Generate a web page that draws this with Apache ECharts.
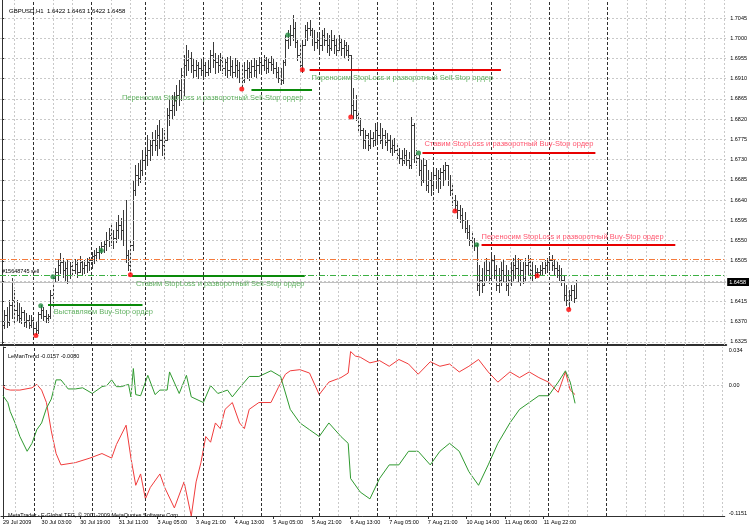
<!DOCTYPE html>
<html><head><meta charset="utf-8">
<script src="https://cdn.jsdelivr.net/npm/echarts@6/dist/echarts.min.js"></script>
<style>html,body{margin:0;padding:0;background:#fff}#c{width:750px;height:527px}</style>
</head><body><div id="c"></div>
<script>
// ---------- DATA ----------
const firstOpen = 1.6372;
const highs = [
1.6392,1.6396,1.6403,1.6419,1.6467,1.6441,1.6419,1.6412,1.6403,1.6396,
1.6390,1.6385,1.6385,1.6379,1.6370,1.6392,1.6407,1.6403,1.6396,1.6387,
1.6441,1.6474,1.6490,1.6507,1.6523,1.6512,1.6503,1.6507,1.6503,1.6507,
1.6510,1.6507,1.6516,1.6505,1.6507,1.6512,1.6514,1.6525,1.6530,1.6534,
1.6538,1.6547,1.6552,1.6570,1.6578,1.6585,1.6574,1.6592,1.6607,1.6601,
1.6618,1.6641,1.6530,1.6552,1.6685,1.6718,1.6723,1.6730,1.6752,1.6756,
1.6785,1.6774,1.6792,1.6796,1.6807,1.6818,1.6801,1.6796,1.6845,1.6863,
1.6874,1.6881,1.6896,1.6907,1.6934,1.6963,1.6985,1.6974,1.6970,1.6956,
1.6952,1.6947,1.6956,1.6952,1.6947,1.6952,1.6974,1.6992,1.6967,1.6963,
1.6967,1.6963,1.6956,1.6958,1.6961,1.6952,1.6956,1.6952,1.6947,1.6941,
1.6947,1.6952,1.6947,1.6952,1.6956,1.6952,1.6958,1.6958,1.6963,1.6958,
1.6956,1.6961,1.6956,1.6947,1.6936,1.6934,1.6952,1.7007,1.7018,1.7029,
1.7052,1.7036,1.6996,1.6985,1.6996,1.7029,1.7036,1.7041,1.7023,1.7018,
1.7014,1.7007,1.7018,1.7023,1.7012,1.7007,1.7018,1.7007,1.7001,1.7007,
1.7001,1.6996,1.6992,1.6985,1.6963,1.6889,1.6874,1.6836,1.6823,1.6801,
1.6796,1.6790,1.6796,1.6792,1.6812,1.6807,1.6812,1.6801,1.6796,1.6790,
1.6785,1.6774,1.6778,1.6763,1.6756,1.6752,1.6756,1.6752,1.6747,1.6825,
1.6812,1.6752,1.6741,1.6730,1.6734,1.6730,1.6707,1.6703,1.6707,1.6712,
1.6707,1.6712,1.6718,1.6725,1.6718,1.6696,1.6674,1.6652,1.6641,1.6630,
1.6623,1.6614,1.6596,1.6585,1.6570,1.6556,1.6545,1.6496,1.6490,1.6503,
1.6512,1.6503,1.6523,1.6518,1.6496,1.6490,1.6503,1.6507,1.6496,1.6485,
1.6503,1.6512,1.6518,1.6512,1.6507,1.6503,1.6512,1.6518,1.6512,1.6503,
1.6496,1.6490,1.6496,1.6503,1.6507,1.6512,1.6516,1.6518,1.6507,1.6503,
1.6496,1.6490,1.6474,1.6452,1.6441,1.6452,1.6452,1.6463];
const lows = [
1.6352,1.6356,1.6359,1.6363,1.6379,1.6367,1.6374,1.6370,1.6367,1.6361,
1.6359,1.6356,1.6359,1.6347,1.6343,1.6345,1.6379,1.6374,1.6370,1.6370,
1.6379,1.6403,1.6458,1.6463,1.6478,1.6470,1.6463,1.6456,1.6467,1.6474,
1.6478,1.6470,1.6481,1.6476,1.6478,1.6481,1.6485,1.6490,1.6501,1.6507,
1.6512,1.6523,1.6525,1.6530,1.6538,1.6541,1.6534,1.6547,1.6556,1.6552,
1.6541,1.6503,1.6485,1.6478,1.6530,1.6652,1.6674,1.6681,1.6696,1.6712,
1.6718,1.6730,1.6741,1.6752,1.6741,1.6756,1.6741,1.6730,1.6774,1.6807,
1.6823,1.6830,1.6841,1.6852,1.6863,1.6874,1.6918,1.6930,1.6925,1.6914,
1.6916,1.6912,1.6918,1.6914,1.6916,1.6918,1.6925,1.6936,1.6923,1.6925,
1.6930,1.6923,1.6918,1.6914,1.6918,1.6914,1.6916,1.6912,1.6903,1.6894,
1.6903,1.6912,1.6907,1.6914,1.6916,1.6912,1.6923,1.6925,1.6930,1.6923,
1.6925,1.6930,1.6923,1.6912,1.6903,1.6898,1.6901,1.6941,1.6978,1.6985,
1.6996,1.6981,1.6952,1.6934,1.6925,1.6985,1.6996,1.7007,1.6985,1.6974,
1.6978,1.6970,1.6974,1.6985,1.6970,1.6963,1.6974,1.6967,1.6963,1.6974,
1.6963,1.6958,1.6963,1.6952,1.6830,1.6823,1.6818,1.6796,1.6785,1.6756,
1.6756,1.6752,1.6756,1.6761,1.6763,1.6770,1.6767,1.6756,1.6763,1.6752,
1.6747,1.6741,1.6747,1.6730,1.6723,1.6718,1.6723,1.6718,1.6712,1.6712,
1.6725,1.6718,1.6696,1.6674,1.6681,1.6663,1.6658,1.6652,1.6663,1.6667,
1.6658,1.6667,1.6674,1.6685,1.6674,1.6652,1.6630,1.6618,1.6601,1.6592,
1.6578,1.6570,1.6556,1.6541,1.6538,1.6530,1.6441,1.6430,1.6436,1.6452,
1.6463,1.6456,1.6463,1.6467,1.6441,1.6436,1.6452,1.6458,1.6441,1.6430,
1.6452,1.6463,1.6467,1.6458,1.6452,1.6456,1.6463,1.6474,1.6467,1.6463,
1.6467,1.6472,1.6474,1.6476,1.6478,1.6481,1.6485,1.6485,1.6474,1.6470,
1.6463,1.6452,1.6419,1.6407,1.6401,1.6419,1.6414,1.6422];
const closes = [
1.6363,1.6385,1.6370,1.6407,1.6419,1.6396,1.6385,1.6379,1.6392,1.6370,
1.6374,1.6363,1.6374,1.6356,1.6352,1.6387,1.6396,1.6383,1.6379,1.6383,
1.6430,1.6467,1.6481,1.6496,1.6503,1.6485,1.6490,1.6474,1.6494,1.6485,
1.6498,1.6481,1.6503,1.6490,1.6496,1.6503,1.6507,1.6516,1.6518,1.6525,
1.6530,1.6538,1.6543,1.6552,1.6563,1.6552,1.6556,1.6574,1.6585,1.6574,
1.6552,1.6518,1.6496,1.6541,1.6663,1.6696,1.6690,1.6707,1.6730,1.6741,
1.6752,1.6763,1.6774,1.6763,1.6785,1.6774,1.6763,1.6774,1.6830,1.6841,
1.6852,1.6863,1.6874,1.6885,1.6918,1.6941,1.6952,1.6956,1.6941,1.6930,
1.6941,1.6934,1.6930,1.6941,1.6925,1.6934,1.6963,1.6952,1.6947,1.6941,
1.6952,1.6934,1.6947,1.6930,1.6938,1.6925,1.6941,1.6930,1.6912,1.6907,
1.6930,1.6934,1.6925,1.6938,1.6930,1.6941,1.6947,1.6941,1.6952,1.6934,
1.6947,1.6943,1.6934,1.6925,1.6912,1.6907,1.6947,1.6996,1.7001,1.7007,
1.7023,1.6992,1.6963,1.6941,1.6985,1.7018,1.7023,1.7018,1.7001,1.6992,
1.6996,1.6985,1.7007,1.6996,1.6985,1.6978,1.6996,1.6985,1.6974,1.6992,
1.6978,1.6985,1.6974,1.6963,1.6852,1.6841,1.6830,1.6807,1.6796,1.6774,
1.6785,1.6763,1.6778,1.6774,1.6796,1.6785,1.6774,1.6785,1.6770,1.6774,
1.6756,1.6763,1.6752,1.6741,1.6734,1.6730,1.6741,1.6730,1.6718,1.6807,
1.6741,1.6734,1.6707,1.6685,1.6718,1.6674,1.6685,1.6674,1.6696,1.6685,
1.6690,1.6703,1.6707,1.6718,1.6685,1.6663,1.6641,1.6630,1.6618,1.6607,
1.6596,1.6578,1.6570,1.6552,1.6552,1.6541,1.6452,1.6463,1.6452,1.6474,
1.6485,1.6467,1.6507,1.6485,1.6452,1.6463,1.6485,1.6474,1.6452,1.6463,
1.6485,1.6496,1.6490,1.6474,1.6485,1.6467,1.6496,1.6503,1.6485,1.6474,
1.6481,1.6481,1.6485,1.6490,1.6496,1.6503,1.6507,1.6496,1.6490,1.6485,
1.6474,1.6463,1.6430,1.6419,1.6430,1.6441,1.6422,1.6458];

// LeManTrend indicator: [bar, value]
const lemanRed = [[0,0.000],[1,-0.003],[3,-0.004],[7,-0.004],[12,-0.002],[14,0.001],[16,-0.004],[18,-0.015],[20,-0.040],[22,-0.060],[24,-0.070],[30,-0.068],[36,-0.064],[41,-0.060],[45,-0.064],[47,-0.052],[51,-0.035],[53,-0.064],[55,-0.088],[57,-0.078],[59,-0.100],[61,-0.090],[65,-0.078],[67,-0.090],[71,-0.108],[75,-0.085],[78,-0.1151],[80,-0.085],[82,-0.068],[84,-0.045],[86,-0.050],[88,-0.033],[90,-0.038],[92,-0.021],[95,-0.015],[98,-0.033],[100,-0.038],[102,-0.021],[106,-0.015],[111,-0.015],[114,-0.002],[117,0.010],[119,0.013],[123,0.014],[127,0.011],[131,-0.008],[135,0.003],[140,0.007],[143,0.011],[144,0.030],[146,0.026],[148,0.025],[152,0.020],[156,0.022],[160,0.017],[164,0.023],[168,0.019],[172,0.010],[177,0.021],[181,0.017],[185,0.019],[189,0.012],[193,0.017],[197,0.023],[201,0.012],[205,0.003],[210,0.012],[214,0.007],[218,0.012],[222,0.007],[226,0.003],[230,-0.006],[233,0.012],[235,-0.004],[237,-0.0080]];
const lemanGreen = [[0,-0.009],[2,-0.015],[3,-0.023],[5,-0.033],[7,-0.045],[10,-0.058],[12,-0.051],[14,-0.039],[16,-0.033],[18,-0.020],[20,-0.012],[22,0.005],[24,0.005],[27,-0.003],[30,-0.003],[33,-0.002],[37,-0.007],[41,-0.001],[43,0.000],[45,0.005],[47,-0.001],[49,-0.001],[52,0.001],[53,-0.010],[54,0.015],[55,-0.008],[57,-0.009],[60,0.009],[63,-0.008],[65,-0.004],[68,-0.004],[69,0.012],[73,-0.007],[76,0.009],[78,-0.010],[83,-0.015],[86,0.000],[89,-0.007],[93,-0.004],[95,-0.010],[98,-0.002],[102,0.008],[106,0.008],[111,0.013],[115,0.008],[119,-0.021],[123,-0.033],[127,-0.039],[131,-0.045],[135,-0.033],[140,-0.045],[143,-0.051],[144,-0.082],[148,-0.094],[152,-0.100],[156,-0.082],[160,-0.070],[164,-0.070],[168,-0.058],[172,-0.058],[177,-0.070],[181,-0.058],[185,-0.051],[189,-0.058],[193,-0.076],[197,-0.088],[201,-0.070],[205,-0.051],[210,-0.033],[214,-0.021],[218,-0.015],[222,-0.009],[226,-0.009],[230,0.003],[233,0.013],[235,0.003],[237,-0.0157]];

// trade markers [bar, price]
const redDots = [[14,1.6339],[53,1.6474],[99,1.6887],[124,1.6930],[144,1.6825],[187,1.6616],[221,1.6472],[234,1.6397]];
const greenDots = [[16,1.6405],[21,1.6470],[41,1.6528],[118,1.7007],[172,1.6745],[196,1.6541]];

// horizontal objects [barStart, barEnd, price]
const greenSegments = [[19,58,1.6407],[53.6,125,1.6472],[103,128,1.6885]];
const redSegments = [[127,206,1.6930],[173.6,245,1.6745],[198,278,1.6541]];

// text objects
const noteText = ['Выставляем Buy-Stop ордер','Ставим StopLoss и разворотный Sell-Stop ордер','Переносим StopLoss и разворотный Sell-Stop ордер','Переносим StopLoss и разворотный Sell-Stop ордер','Ставим StopLoss и разворотный Buy-Stop ордер','Переносим StopLoss и разворотный Buy-Stop ордер'];
const notePos = [[21.4,1.6392],[55.3,1.6454],[49.5,1.6867],[127.8,1.6912],[174.4,1.6765],[198,1.6559]];
const noteColor = ['#3a9e3a','#3a9e3a','#3a9e3a','#3a9e3a','#ff2a4a','#ff2a4a'];

const stopLevel = 1.6509, orderLevel = 1.6472, bidPrice = 1.6458;
const priceTicks = [1.6325,1.6370,1.6415,1.6460,1.6505,1.6550,1.6595,1.6640,1.6685,1.6730,1.6775,1.6820,1.6865,1.6910,1.6955,1.7000,1.7045];
const priceTickLabels = ['1.6325','1.6370','1.6415','','1.6505','1.6550','1.6595','1.6640','1.6685','1.6730','1.6775','1.6820','1.6865','1.6910','1.6955','1.7000','1.7045'];
const indTicks = [-0.1151, 0, 0.034];
const indTickLabels = ['-0.1151','0.00','0.034'];
const timeTickBars = [0,16,32,48,64,80,96,112,128,144,160,176,192,208,224];
const timeLabels = ['29 Jul 2009','30 Jul 03:00','30 Jul 19:00','31 Jul 11:00','3 Aug 05:00','3 Aug 21:00','4 Aug 13:00','5 Aug 05:00','5 Aug 21:00','6 Aug 13:00','7 Aug 05:00','7 Aug 21:00','10 Aug 14:00','11 Aug 06:00','11 Aug 22:00'];
const daySeparators = [13,37,59,83,107,131,155,178,202,226,250];
const gridBars = [5,21,29,45,53,67,75,91,99,115,123,139,147,163,171,186,194,210,218,234,242,258,266,274,282,290,298];

// ---------- CHART ----------
const FONT = 'Liberation Sans';
const chart = echarts.init(document.getElementById('c'), null, {renderer:'canvas', width:750, height:527});
const ohlc = [];
let prev = firstOpen;
for (let i = 0; i < closes.length; i++) { ohlc.push([i, prev, highs[i], lows[i], closes[i]]); prev = closes[i]; }

const gridStyle = {color:'#c9c9c9', type:[2,2], width:1};
const sepStyle = {color:'#303030', type:[3,2], width:1};
const dashDot = [6,2,1,2];

const mainGridLines = [].concat(
  priceTicks.map(v => ({yAxis:v, lineStyle:gridStyle})),
  gridBars.map(v => ({xAxis:v, lineStyle:gridStyle})),
  daySeparators.map(v => ({xAxis:v, lineStyle:sepStyle}))
);
const indGridLines = [].concat(
  [{yAxis:0, lineStyle:gridStyle}],
  gridBars.map(v => ({xAxis:v, lineStyle:gridStyle})),
  daySeparators.map(v => ({xAxis:v, lineStyle:sepStyle}))
);
const objectLines = [].concat(
  [{yAxis:stopLevel, lineStyle:{color:'#f47a3c', type:dashDot, width:1}}],
  [{yAxis:orderLevel, lineStyle:{color:'#3cb043', type:dashDot, width:1},
    label:{show:true, position:'insideStartTop', formatter:'#15648745 sell', color:'#000', fontSize:5.5, fontFamily:FONT, distance:[2,1]}}],
  [{yAxis:bidPrice, lineStyle:{color:'#c0c0c0', type:'solid', width:1},
    label:{show:true, position:'end', formatter:'1.6458', color:'#fff', backgroundColor:'#000', padding:[1,3,1,2], fontSize:5.5, fontFamily:FONT, distance:1}}],
  greenSegments.map(s => [{coord:[s[0],s[2]], lineStyle:{color:'#0a8a0a', width:2, type:'solid'}},{coord:[s[1],s[2]]}]),
  redSegments.map(s => [{coord:[s[0],s[2]], lineStyle:{color:'#e80000', width:2, type:'solid'}},{coord:[s[1],s[2]]}])
);

const xMin = -0.825, xMax = 299;
const option = {
  animation:false,
  backgroundColor:'#fff',
  title:[
    {text:'GBPUSD,H1  1.6422 1.6463 1.6422 1.6458', left:4, top:3, textStyle:{fontSize:6, fontWeight:'normal', color:'#000', fontFamily:FONT}},
    {text:'LeManTrend -0.0157 -0.0080', left:3, top:348, textStyle:{fontSize:5.5, fontWeight:'normal', color:'#000', fontFamily:FONT}},
    {text:'MetaTrader - E-Global TFG, © 2001-2009 MetaQuotes Software Corp.', left:3, top:507, textStyle:{fontSize:5.5, fontWeight:'normal', color:'#000', fontFamily:FONT}}
  ],
  grid:[
    {left:0, top:0, width:727, height:345},
    {left:0, top:347, width:727, height:169}
  ],
  xAxis:[
    {type:'value', gridIndex:0, min:xMin, max:xMax, axisLabel:{show:false}, axisTick:{show:false}, splitLine:{show:false},
     axisLine:{show:true, onZero:false, lineStyle:{color:'#303030', width:2}}},
    {type:'value', gridIndex:1, min:xMin, max:xMax, splitLine:{show:false},
     axisLine:{show:true, onZero:false, lineStyle:{color:'#303030', width:1}},
     axisTick:{show:true, customValues:timeTickBars, length:3, lineStyle:{color:'#303030'}},
     axisLabel:{show:true, customValues:timeTickBars, formatter:v => timeLabels[timeTickBars.indexOf(v)], align:'left', margin:3, fontSize:5.5, color:'#000', fontFamily:FONT}}
  ],
  yAxis:[
    {type:'value', gridIndex:0, position:'right', min:1.6318, max:1.7085, splitLine:{show:false},
     axisLine:{show:true, lineStyle:{color:'#303030', width:1}},
     axisTick:{show:true, customValues:priceTicks, length:3, lineStyle:{color:'#303030'}},
     axisLabel:{show:true, customValues:priceTicks, formatter:v => priceTickLabels[priceTicks.indexOf(v)], margin:4, fontSize:5.5, color:'#000', fontFamily:FONT}},
    {type:'value', gridIndex:1, position:'right', min:-0.1151, max:0.034, splitLine:{show:false},
     axisLine:{show:true, lineStyle:{color:'#303030', width:1}},
     axisTick:{show:true, customValues:indTicks, length:3, lineStyle:{color:'#303030'}},
     axisLabel:{show:true, customValues:indTicks, formatter:v => indTickLabels[indTicks.indexOf(v)], margin:4, fontSize:5.5, color:'#000', fontFamily:FONT,
       verticalAlignMinLabel:'bottom', verticalAlignMaxLabel:'top'}}
  ],
  series:[
    {type:'line', xAxisIndex:0, yAxisIndex:0, data:[], z:1, silent:true,
     markLine:{symbol:'none', precision:6, silent:true, animation:false, label:{show:false}, data:mainGridLines}},
    {type:'custom', xAxisIndex:0, yAxisIndex:0, z:2, silent:true,
     data:ohlc, encode:{x:0, y:[1,2,3,4]},
     renderItem:function(params, api){
       const i = api.value(0);
       const o = api.coord([i, api.value(1)]);
       const h = api.coord([i, api.value(2)]);
       const l = api.coord([i, api.value(3)]);
       const c = api.coord([i, api.value(4)]);
       const x = Math.round(o[0]) + 0.5;
       const st = {stroke:'#3a3a3a', lineWidth:1};
       return {type:'group', children:[
         {type:'line', shape:{x1:x, y1:Math.round(h[1]), x2:x, y2:Math.round(l[1])+1}, style:st},
         {type:'line', shape:{x1:x-1.5, y1:Math.round(o[1])+0.5, x2:x, y2:Math.round(o[1])+0.5}, style:st},
         {type:'line', shape:{x1:x, y1:Math.round(c[1])+0.5, x2:x+1.5, y2:Math.round(c[1])+0.5}, style:st}
       ]};
     }},
    {type:'line', xAxisIndex:0, yAxisIndex:0, data:[], z:3, silent:true,
     markLine:{symbol:'none', precision:6, silent:true, animation:false, label:{show:false}, data:objectLines}},
    {type:'scatter', xAxisIndex:0, yAxisIndex:0, z:5, data:redDots, symbol:'circle', symbolSize:5, itemStyle:{color:'#ff0000'}, silent:true},
    {type:'scatter', xAxisIndex:0, yAxisIndex:0, z:5, data:greenDots, symbol:'circle', symbolSize:5, itemStyle:{color:'#1f8a3f'}, silent:true},
    {type:'scatter', xAxisIndex:0, yAxisIndex:0, z:6, silent:true, symbolSize:0,
     data:notePos.map((p,k) => ({value:p, label:{color:noteColor[k]}})),
     label:{show:true, position:'right', distance:0, fontSize:7.5, fontFamily:FONT, formatter:p => noteText[p.dataIndex]}},
    {type:'line', xAxisIndex:1, yAxisIndex:1, data:[], z:1, silent:true,
     markLine:{symbol:'none', precision:6, silent:true, animation:false, label:{show:false}, data:indGridLines}},
    {type:'line', xAxisIndex:1, yAxisIndex:1, z:3, data:lemanRed, showSymbol:false, silent:true, lineStyle:{color:'#f03c3c', width:1}},
    {type:'line', xAxisIndex:1, yAxisIndex:1, z:3, data:lemanGreen, showSymbol:false, silent:true, lineStyle:{color:'#2f9a2f', width:1}}
  ]
};
chart.setOption(option);
</script></body></html>
